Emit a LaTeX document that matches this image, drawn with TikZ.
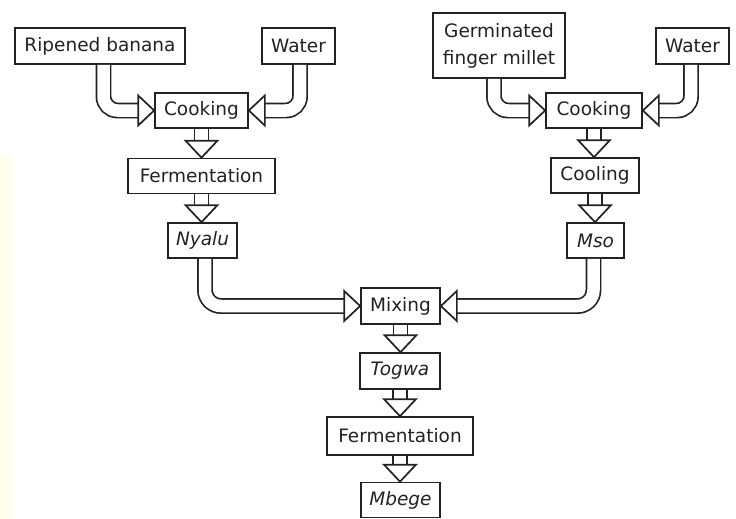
\documentclass[tikz,border=0pt]{standalone}
\usepackage{fontspec}
\setmainfont{DejaVu Sans}
\usetikzlibrary{calc}
\definecolor{ink}{HTML}{222222}
\definecolor{paleyellow}{RGB}{255,254,238}
\tikzset{
  box/.style={draw=ink, line width=1.7pt, fill=white, text=ink, inner sep=0pt,
    align=center, font=\fontsize{18.5}{27}\selectfont},
  shaft/.style={draw=ink, line width=1.7pt, double=white, double distance=12.5pt},
  headst/.style={draw=ink, line width=1.7pt, fill=white, line join=miter},
}
\newcommand\headR[1]{\draw[headst] (#1) -- ++(-16,-15) -- ++(0,30) -- cycle;}
\newcommand\headL[1]{\draw[headst] (#1) -- ++(16,-15) -- ++(0,30) -- cycle;}
\newcommand\headD[1]{\draw[headst] (#1) -- ++(-16,-17) -- ++(32,0) -- cycle;}
\newcommand\downarr[2]{%
  \draw[shaft] (#1.south) -- ($(#1.south |- #2.north)+(0,-16)$);
  \headD{#1.south |- #2.north}}
% #1 source node, #2 xshift, #3 target anchor, #4 direction (1 right, -1 left), #5 radius
\newcommand\bend[5]{%
  \coordinate (bs) at ([xshift=#2]#1.south);
  \coordinate (bk) at (bs |- #3);
  \draw[shaft] (bs) -- ($(bk)+(0,-#5)$) arc[start angle={90+90*#4}, delta angle={90*#4}, radius=#5pt] -- ($(#3)+(-15*#4,0)$);
  \ifnum#4=1 \headR{#3}\else\headL{#3}\fi}
\begin{document}
\begin{tikzpicture}[x=1pt,y=-1pt]
\useasboundingbox (0,0) rectangle (736,519);
\fill[paleyellow] (0,157) .. controls (6,152) and (12,154) .. (13,160) -- (13,519) -- (0,519) -- cycle;

% nodes
\node[box, minimum width=170, minimum height=36] (rb) at (100,46) {Ripened banana};
\node[box, minimum width=73, minimum height=36] (w1) at (298.5,46) {Water};
\node[box, minimum width=93, minimum height=35] (c1) at (201.5,110.5) {Cooking};
\node[box, minimum width=147, minimum height=35] (f1) at (201.5,176) {Fermentation};
\node[box, minimum width=69, minimum height=35] (ny) at (202.5,240.5) {\itshape Nyalu};

\node[box, minimum width=132, minimum height=65] (gm) at (499,45.5) {Germinated\\finger millet};
\node[box, minimum width=73, minimum height=36] (w2) at (692.5,46) {Water};
\node[box, minimum width=96, minimum height=35] (c2) at (594,110.5) {Cooking};
\node[box, minimum width=88, minimum height=35] (cl) at (595,175.5) {Cooling};
\node[box, minimum width=57, minimum height=35] (ms) at (595.5,240.5) {\itshape Mso};

\node[box, minimum width=79, minimum height=36] (mx) at (400.5,306) {Mixing};
\node[box, minimum width=80, minimum height=36] (tg) at (400,371) {\itshape Togwa};
\node[box, minimum width=146, minimum height=38] (f2) at (400,436) {Fermentation};
\node[box, minimum width=79, minimum height=35] (mb) at (400.5,500) {\itshape Mbege};

% curved block arrows into cooking
\bend{rb}{3.5pt}{c1.west}{1}{14}
\bend{w1}{1.5pt}{c1.east}{-1}{14}
\bend{gm}{-5pt}{c2.west}{1}{14}
\bend{w2}{-1.5pt}{c2.east}{-1}{14}

% straight down arrows
\downarr{c1}{f1}
\downarr{f1}{ny}
\downarr{c2}{cl}
\downarr{cl}{ms}
\downarr{mx}{tg}
\downarr{tg}{f2}
\downarr{f2}{mb}

% into mixing
\bend{ny}{2.5pt}{mx.west}{1}{16}
\bend{ms}{-2pt}{mx.east}{-1}{16}
\end{tikzpicture}
\end{document}
